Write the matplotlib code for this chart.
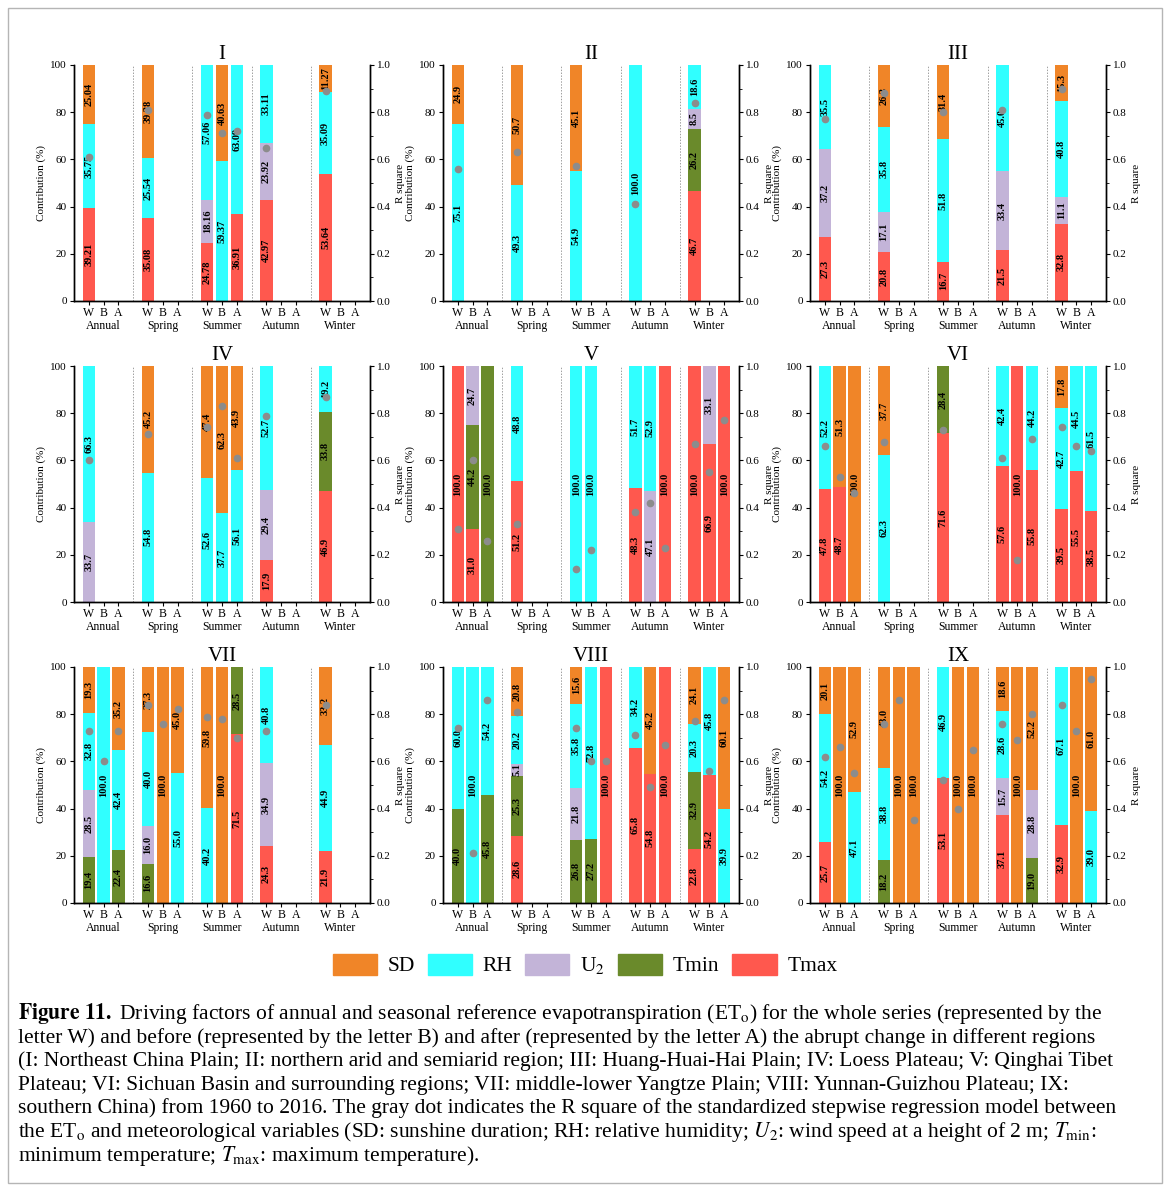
import numpy as np
import matplotlib
matplotlib.use('Agg')
import matplotlib.pyplot as plt
from matplotlib.patches import Patch, Rectangle
from matplotlib.ticker import MultipleLocator

plt.rcParams['font.family'] = 'serif'
plt.rcParams['font.serif'] = ['Liberation Serif', 'DejaVu Serif']
plt.rcParams['mathtext.fontset'] = 'stix'
plt.rcParams['axes.linewidth'] = 1.0

seasons = ['Annual', 'Spring', 'Summer', 'Autumn', 'Winter']
periods = ['W', 'B', 'A']
factors = ['Tmax', 'Tmin', 'U2', 'RH', 'SD']
colors = {'SD': '#F08528', 'RH': '#30FFFF', 'U2': '#C3B4D8',
          'Tmin': '#6A8A2B', 'Tmax': '#FF584E'}

n = np.nan
# order: Annual W,B,A | Spring W,B,A | Summer W,B,A | Autumn W,B,A | Winter W,B,A
# I: Northeast China Plain
I_tmax = [39.21, 0, 0, 35.08, 0, 0, 24.78, 0, 36.91, 42.97, 0, 0, 53.64, 0, 0]
I_tmin = [0] * 15
I_u2 = [0, 0, 0, 0, 0, 0, 18.16, 0, 0, 23.92, 0, 0, 0, 0, 0]
I_rh = [35.75, 0, 0, 25.54, 0, 0, 57.06, 59.37, 63.09, 33.11, 0, 0, 35.09, 0, 0]
I_sd = [25.04, 0, 0, 39.38, 0, 0, 0, 40.63, 0, 0, 0, 0, 11.27, 0, 0]
I_r2 = [0.61, n, n, 0.81, n, n, 0.79, 0.71, 0.72, 0.65, n, n, 0.89, n, n]

# II: northern arid and semiarid region
II_tmax = [0, 0, 0, 0, 0, 0, 0, 0, 0, 0, 0, 0, 46.7, 0, 0]
II_tmin = [0, 0, 0, 0, 0, 0, 0, 0, 0, 0, 0, 0, 26.2, 0, 0]
II_u2 = [0, 0, 0, 0, 0, 0, 0, 0, 0, 0, 0, 0, 8.5, 0, 0]
II_rh = [75.1, 0, 0, 49.3, 0, 0, 54.9, 0, 0, 100.0, 0, 0, 18.6, 0, 0]
II_sd = [24.9, 0, 0, 50.7, 0, 0, 45.1, 0, 0, 0, 0, 0, 0, 0, 0]
II_r2 = [0.56, n, n, 0.63, n, n, 0.57, n, n, 0.41, n, n, 0.84, n, n]

# III: Huang-Huai-Hai Plain
III_tmax = [27.3, 0, 0, 20.8, 0, 0, 16.7, 0, 0, 21.5, 0, 0, 32.8, 0, 0]
III_tmin = [0] * 15
III_u2 = [37.2, 0, 0, 17.1, 0, 0, 0, 0, 0, 33.4, 0, 0, 11.1, 0, 0]
III_rh = [35.5, 0, 0, 35.8, 0, 0, 51.8, 0, 0, 45.0, 0, 0, 40.8, 0, 0]
III_sd = [0, 0, 0, 26.3, 0, 0, 31.4, 0, 0, 0, 0, 0, 15.3, 0, 0]
III_r2 = [0.77, n, n, 0.88, n, n, 0.80, n, n, 0.81, n, n, 0.90, n, n]

# IV: Loess Plateau
IV_tmax = [0, 0, 0, 0, 0, 0, 0, 0, 0, 17.9, 0, 0, 46.9, 0, 0]
IV_tmin = [0, 0, 0, 0, 0, 0, 0, 0, 0, 0, 0, 0, 33.8, 0, 0]
IV_u2 = [33.7, 0, 0, 0, 0, 0, 0, 0, 0, 29.4, 0, 0, 0, 0, 0]
IV_rh = [66.3, 0, 0, 54.8, 0, 0, 52.6, 37.7, 56.1, 52.7, 0, 0, 19.2, 0, 0]
IV_sd = [0, 0, 0, 45.2, 0, 0, 47.4, 62.3, 43.9, 0, 0, 0, 0, 0, 0]
IV_r2 = [0.60, n, n, 0.71, n, n, 0.74, 0.83, 0.61, 0.79, n, n, 0.87, n, n]

# V: Qinghai Tibet Plateau
V_tmax = [100.0, 31.0, 0, 51.2, 0, 0, 0, 0, 0, 48.3, 0, 100.0, 100.0, 66.9, 100.0]
V_tmin = [0, 44.2, 100.0, 0, 0, 0, 0, 0, 0, 0, 0, 0, 0, 0, 0]
V_u2 = [0, 24.7, 0, 0, 0, 0, 0, 0, 0, 0, 47.1, 0, 0, 33.1, 0]
V_rh = [0, 0, 0, 48.8, 0, 0, 100.0, 100.0, 0, 51.7, 52.9, 0, 0, 0, 0]
V_sd = [0] * 15
V_r2 = [0.31, 0.60, 0.26, 0.33, n, n, 0.14, 0.22, n, 0.38, 0.42, 0.23, 0.67, 0.55, 0.77]

# VI: Sichuan Basin and surrounding regions
VI_tmax = [47.8, 48.7, 0, 0, 0, 0, 71.6, 0, 0, 57.6, 100.0, 55.8, 39.5, 55.5, 38.5]
VI_tmin = [0, 0, 0, 0, 0, 0, 28.4, 0, 0, 0, 0, 0, 0, 0, 0]
VI_u2 = [0] * 15
VI_rh = [52.2, 0, 0, 62.3, 0, 0, 0, 0, 0, 42.4, 0, 44.2, 42.7, 44.5, 61.5]
VI_sd = [0, 51.3, 100.0, 37.7, 0, 0, 0, 0, 0, 0, 0, 0, 17.8, 0, 0]
VI_r2 = [0.66, 0.53, 0.46, 0.68, n, n, 0.73, n, n, 0.61, 0.18, 0.69, 0.74, 0.66, 0.64]

# VII: middle-lower Yangtze Plain
VII_tmax = [0, 0, 0, 0, 0, 0, 0, 0, 71.5, 24.3, 0, 0, 21.9, 0, 0]
VII_tmin = [19.4, 0, 22.4, 16.6, 0, 0, 0, 0, 28.5, 0, 0, 0, 0, 0, 0]
VII_u2 = [28.5, 0, 0, 16.0, 0, 0, 0, 0, 0, 34.9, 0, 0, 0, 0, 0]
VII_rh = [32.8, 100.0, 42.4, 40.0, 0, 55.0, 40.2, 0, 0, 40.8, 0, 0, 44.9, 0, 0]
VII_sd = [19.3, 0, 35.2, 27.3, 100.0, 45.0, 59.8, 100.0, 0, 0, 0, 0, 33.2, 0, 0]
VII_r2 = [0.73, 0.60, 0.73, 0.84, 0.76, 0.82, 0.79, 0.78, 0.70, 0.73, n, n, 0.84, n, n]

# VIII: Yunnan-Guizhou Plateau
VIII_tmax = [0, 0, 0, 28.6, 0, 0, 0, 0, 100.0, 65.8, 54.8, 100.0, 22.8, 54.2, 0]
VIII_tmin = [40.0, 0, 45.8, 25.3, 0, 0, 26.8, 27.2, 0, 0, 0, 0, 32.9, 0, 0]
VIII_u2 = [0, 0, 0, 5.1, 0, 0, 21.8, 0, 0, 0, 0, 0, 0, 0, 0]
VIII_rh = [60.0, 100.0, 54.2, 20.2, 0, 0, 35.8, 72.8, 0, 34.2, 0, 0, 20.3, 45.8, 39.9]
VIII_sd = [0, 0, 0, 20.8, 0, 0, 15.6, 0, 0, 0, 45.2, 0, 24.1, 0, 60.1]
VIII_r2 = [0.74, 0.21, 0.86, 0.81, n, n, 0.74, 0.60, 0.60, 0.71, 0.49, 0.67, 0.77, 0.56, 0.86]

# IX: southern China
IX_tmax = [25.7, 0, 0, 0, 0, 0, 53.1, 0, 0, 37.1, 0, 0, 32.9, 0, 0]
IX_tmin = [0, 0, 0, 18.2, 0, 0, 0, 0, 0, 0, 0, 19.0, 0, 0, 0]
IX_u2 = [0, 0, 0, 0, 0, 0, 0, 0, 0, 15.7, 0, 28.8, 0, 0, 0]
IX_rh = [54.2, 0, 47.1, 38.8, 0, 0, 46.9, 0, 0, 28.6, 0, 0, 67.1, 0, 39.0]
IX_sd = [20.1, 100.0, 52.9, 43.0, 100.0, 100.0, 0, 100.0, 100.0, 18.6, 100.0, 52.2, 0, 100.0, 61.0]
IX_r2 = [0.62, 0.66, 0.55, 0.76, 0.86, 0.35, 0.52, 0.40, 0.65, 0.76, 0.69, 0.80, 0.84, 0.73, 0.95]

panels = [
    ('I', [I_tmax, I_tmin, I_u2, I_rh, I_sd], I_r2, '{:.2f}'),
    ('II', [II_tmax, II_tmin, II_u2, II_rh, II_sd], II_r2, '{:.1f}'),
    ('III', [III_tmax, III_tmin, III_u2, III_rh, III_sd], III_r2, '{:.1f}'),
    ('IV', [IV_tmax, IV_tmin, IV_u2, IV_rh, IV_sd], IV_r2, '{:.1f}'),
    ('V', [V_tmax, V_tmin, V_u2, V_rh, V_sd], V_r2, '{:.1f}'),
    ('VI', [VI_tmax, VI_tmin, VI_u2, VI_rh, VI_sd], VI_r2, '{:.1f}'),
    ('VII', [VII_tmax, VII_tmin, VII_u2, VII_rh, VII_sd], VII_r2, '{:.1f}'),
    ('VIII', [VIII_tmax, VIII_tmin, VIII_u2, VIII_rh, VIII_sd], VIII_r2, '{:.1f}'),
    ('IX', [IX_tmax, IX_tmin, IX_u2, IX_rh, IX_sd], IX_r2, '{:.1f}'),
]

W, H = 1170, 1191
fig = plt.figure(figsize=(W / 100, H / 100), dpi=100)
fig.patches.append(Rectangle((8 / W, 8 / H), 1154 / W, 1175 / H, transform=fig.transFigure,
                             fill=False, edgecolor='#b5b5b5', lw=1.0))

col_left = [74, 443, 810]
row_top = [65, 366, 667]
aw, ah = 296, 236

xs = np.array([g * 3 + 1.5 + off for g in range(5) for off in (-0.75, 0, 0.75)])

for idx, (name, stacks, r2, fmt) in enumerate(panels):
    r, c = divmod(idx, 3)
    ax = fig.add_axes([col_left[c] / W, (H - row_top[r] - ah) / H, aw / W, ah / H])
    bottom = np.zeros(15)
    for vals, key in zip(stacks, factors):
        v = np.array(vals, dtype=float)
        ax.bar(xs, v, 0.62, bottom=bottom, color=colors[key], edgecolor='none', zorder=2)
        for xi, vi, bi in zip(xs, v, bottom):
            if vi > 0:
                ax.text(xi, bi + vi / 2, fmt.format(vi), rotation=90, ha='center', va='center',
                        fontsize=7.5, fontweight='bold', color='black', zorder=3)
        bottom += v
    for s in [3, 6, 9, 12]:
        ax.axvline(s, color='#a0a0a0', ls=(0, (1.5, 1.5)), lw=0.7, zorder=1)
    ax.set_xlim(0, 15)
    ax.set_ylim(0, 100)
    ax.set_xticks(xs)
    ax.set_xticklabels(periods * 5, fontsize=8.5)
    ax.set_yticks(range(0, 101, 20))
    ax.tick_params(axis='y', labelsize=8, length=3, direction='out', pad=2)
    ax.tick_params(axis='x', length=3, direction='out', pad=1)
    for g, s in enumerate(seasons):
        ax.text(g * 3 + 1.5, -0.105, s, transform=ax.get_xaxis_transform(),
                ha='center', va='center', fontsize=8.5)
    ax.set_ylabel('Contribution (%)', fontsize=8, labelpad=3)
    ax.spines['top'].set_visible(False)
    ax.set_title(name, fontsize=15, pad=4)

    ax2 = ax.twinx()
    ax2.plot(xs, r2, 'o', color='#8c8c8c', ms=4.5, zorder=5)
    ax2.set_ylim(0, 1)
    ax2.yaxis.set_major_locator(MultipleLocator(0.2))
    ax2.yaxis.set_minor_locator(MultipleLocator(0.1))
    ax2.yaxis.set_major_formatter(matplotlib.ticker.FormatStrFormatter('%.1f'))
    ax2.tick_params(axis='y', which='major', labelsize=8, length=3, direction='out', pad=2)
    ax2.tick_params(axis='y', which='minor', length=2, direction='out')
    ax2.set_ylabel('R square', fontsize=8, labelpad=4)
    ax2.spines['top'].set_visible(False)

handles = [Patch(color=colors[k]) for k in ['SD', 'RH', 'U2', 'Tmin', 'Tmax']]
labels = ['SD', 'RH', 'U$_2$', 'Tmin', 'Tmax']
fig.legend(handles, labels, loc='center', bbox_to_anchor=(585 / W, 1 - 965 / H), ncol=5,
           frameon=False, fontsize=15.5, handlelength=2.05, handleheight=1.15,
           handletextpad=0.5, columnspacing=0.6)

caption = [
    r"$\mathbf{Figure\ 11.}$ Driving factors of annual and seasonal reference evapotranspiration (ET$_\mathrm{o}$) for the whole series (represented by the",
    "letter W) and before (represented by the letter B) and after (represented by the letter A) the abrupt change in different regions",
    "(I: Northeast China Plain; II: northern arid and semiarid region; III: Huang-Huai-Hai Plain; IV: Loess Plateau; V: Qinghai Tibet",
    "Plateau; VI: Sichuan Basin and surrounding regions; VII: middle-lower Yangtze Plain; VIII: Yunnan-Guizhou Plateau; IX:",
    "southern China) from 1960 to 2016. The gray dot indicates the R square of the standardized stepwise regression model between",
    r"the ET$_\mathrm{o}$ and meteorological variables (SD: sunshine duration; RH: relative humidity; $U_2$: wind speed at a height of 2 m; $T_\mathrm{min}$:",
    r"minimum temperature; $T_\mathrm{max}$: maximum temperature).",
]
for i, line in enumerate(caption):
    y = 1019 + i * 23.6
    fig.text(18 / W, 1 - y / H, line, ha='left', va='baseline', fontsize=15.5)

plt.savefig('out.png', dpi=100)
